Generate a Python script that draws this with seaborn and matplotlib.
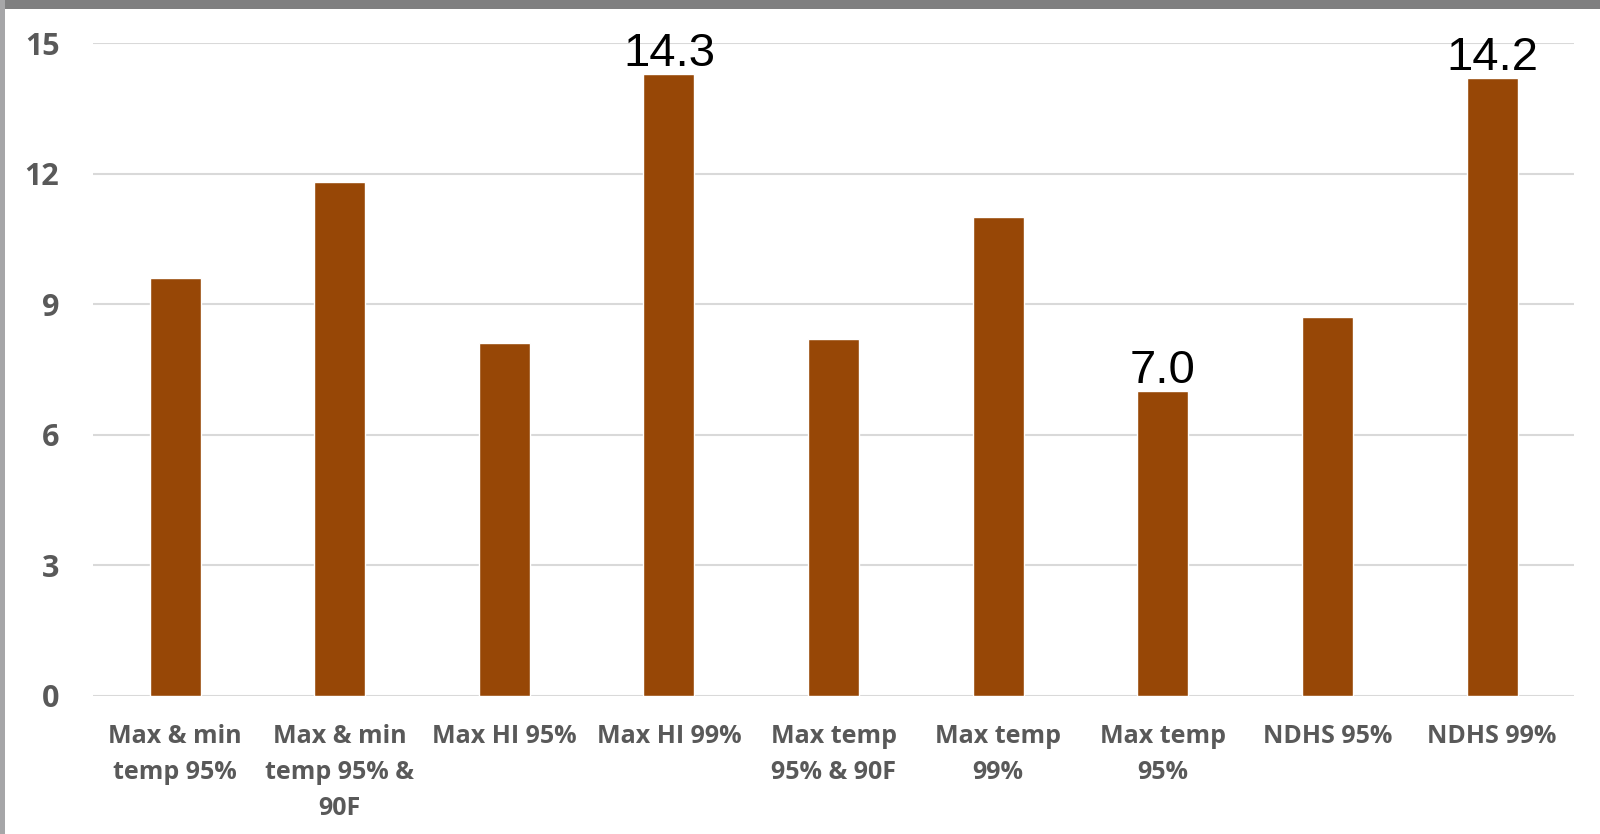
import matplotlib
matplotlib.use("Agg")
import numpy as np
import pandas as pd
import seaborn as sns
from matplotlib import pyplot as plt
from matplotlib.patches import Rectangle

categories = [
    "Max & min\ntemp 95%",
    "Max & min\ntemp 95% &\n90F",
    "Max HI 95%",
    "Max HI 99%",
    "Max temp\n95% & 90F",
    "Max temp\n99%",
    "Max temp\n95%",
    "NDHS 95%",
    "NDHS 99%",
]
values = [9.6, 11.8, 8.1, 14.3, 8.2, 11.0, 7.0, 8.7, 14.2]
labelled = ["Max HI 99%", "Max temp\n95%", "NDHS 99%"]
yticks = [0, 3, 6, 9, 12, 15]

bar_color = "#974706"
tick_color = "#595959"
grid_color = "#d9d9d9"

sns.set_theme(style="white")
plt.rcParams["font.family"] = ["Open Sans", "DejaVu Sans"]

df = pd.DataFrame({"cat": categories, "val": values})

fig = plt.figure(figsize=(16, 8.34), dpi=100)
# grey frame at top and left
fig.patches.append(Rectangle((0, 0.989), 1, 0.011, transform=fig.transFigure,
                             facecolor="#7f7f80", edgecolor="none", zorder=0))
fig.patches.append(Rectangle((0, 0), 0.0031, 1, transform=fig.transFigure,
                             facecolor="#a6a6a8", edgecolor="none", zorder=0))

ax = fig.add_axes([0.058, 0.1655, 0.926, 0.7829])
sns.barplot(data=df, x="cat", y="val", color=bar_color, width=0.31,
            saturation=1, ax=ax, zorder=3)

ax.set_ylim(0, 15)
ax.set_yticks(yticks)
ax.yaxis.grid(True, color=grid_color, linewidth=1.5, zorder=0)
ax.set_axisbelow(True)
for s in ax.spines.values():
    s.set_visible(False)
ax.set_xlabel("")
ax.set_ylabel("")
ax.tick_params(axis="y", length=0, pad=24, labelsize=22, labelcolor=tick_color)
ax.tick_params(axis="x", length=0, pad=20, labelsize=18, labelcolor=tick_color)
for t in ax.get_yticklabels() + ax.get_xticklabels():
    t.set_fontweight("bold")
for t in ax.get_xticklabels():
    t.set_linespacing(1.58)

for i, (c, v) in enumerate(zip(categories, values)):
    if c in labelled:
        ax.text(i, v - 0.05, f"{v:.1f}", ha="center", va="bottom", fontsize=34,
                color="black", family=["Liberation Sans", "DejaVu Sans"], zorder=4)

fig.savefig("out.png")
